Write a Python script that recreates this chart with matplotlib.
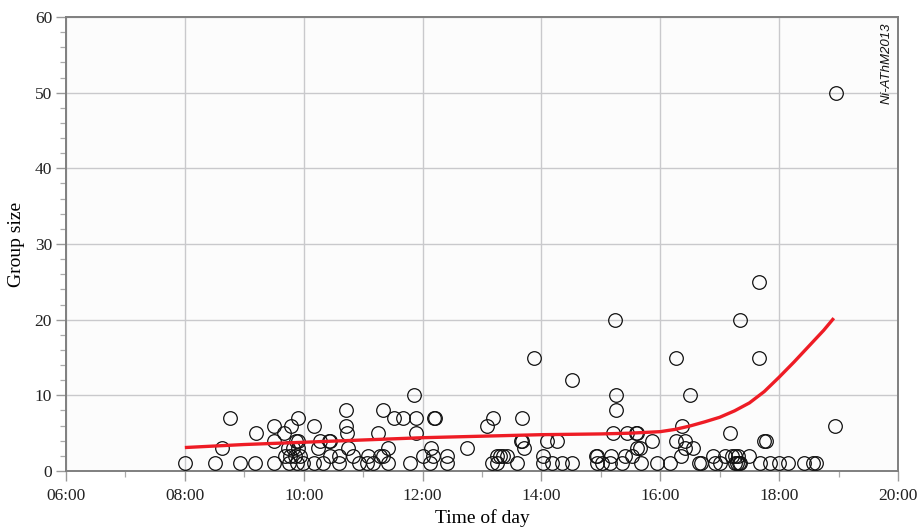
import matplotlib
matplotlib.use("Agg")
import matplotlib.pyplot as plt
from matplotlib.ticker import MultipleLocator, FuncFormatter

# Observations: time of day (decimal hours) and group size
time_h = [
    8.00, 8.51, 8.93, 9.18, 9.50, 9.75, 9.89, 9.99, 10.17,
    9.69, 9.77, 9.85, 9.94,
    8.62, 9.74, 9.82, 9.90, 10.24,
    9.87, 9.90, 9.50,
    9.20, 9.67,
    9.50, 9.79, 10.17,
    8.76, 9.90,
    10.32, 10.59, 10.93, 11.06, 11.17, 11.42, 11.79, 12.12, 12.41,
    10.44, 10.59, 10.83, 11.08, 11.28, 11.33, 12.01, 12.18, 12.41,
    10.75, 11.42, 12.14,
    10.27, 10.43, 10.44,
    10.73, 11.25, 11.89,
    10.71,
    11.52, 11.67, 11.89, 12.19, 12.21,
    10.71, 11.33,
    11.86,
    13.17, 13.25, 13.59, 14.03, 14.18, 14.35, 14.51, 14.94,
    13.25, 13.30, 13.35, 13.42, 14.03, 14.94,
    12.75, 13.71,
    13.66, 13.67, 14.09, 14.26,
    13.08,
    13.19, 13.67,
    14.51, 13.87,
    15.02, 15.15, 15.36, 15.68, 15.94, 16.16, 16.65, 16.68, 16.92, 17.00, 17.26, 17.29,
    14.92, 15.17, 15.41, 15.52, 16.35, 16.89, 17.09, 17.21, 17.31,
    15.61, 15.66, 16.42, 16.55,
    15.86, 16.26, 16.42,
    15.20, 15.44, 15.59, 15.61, 17.17,
    16.37,
    15.25,
    15.25, 16.50,
    15.24, 16.26,
    17.32, 17.34, 17.68, 17.85, 18.00, 18.15, 18.42, 18.57, 18.62,
    17.26, 17.49,
    17.74, 17.78,
    18.94,
    17.34, 17.66, 17.66, 18.96,
]
group_size = [
    1, 1, 1, 1, 1, 1, 1, 1, 1,
    2, 2, 2, 2,
    3, 3, 3, 3, 3,
    4, 4, 4,
    5, 5,
    6, 6, 6,
    7, 7,
    1, 1, 1, 1, 1, 1, 1, 1, 1,
    2, 2, 2, 2, 2, 2, 2, 2, 2,
    3, 3, 3,
    4, 4, 4,
    5, 5, 5,
    6,
    7, 7, 7, 7, 7,
    8, 8,
    10,
    1, 1, 1, 1, 1, 1, 1, 1,
    2, 2, 2, 2, 2, 2,
    3, 3,
    4, 4, 4, 4,
    6,
    7, 7,
    12, 15,
    1, 1, 1, 1, 1, 1, 1, 1, 1, 1, 1, 1,
    2, 2, 2, 2, 2, 2, 2, 2, 2,
    3, 3, 3, 3,
    4, 4, 4,
    5, 5, 5, 5, 5,
    6,
    8,
    10, 10,
    20, 15,
    1, 1, 1, 1, 1, 1, 1, 1, 1,
    2, 2,
    4, 4,
    6,
    20, 25, 15, 50,
]

# Smoothed trend
trend_h = [8.0, 9.0, 10.0, 11.0, 12.0, 13.0, 14.0, 15.0, 15.5, 16.0, 16.25, 16.5,
           16.75, 17.0, 17.25, 17.5, 17.75, 18.0, 18.25, 18.5, 18.75, 18.92]
trend_v = [3.1, 3.5, 3.8, 4.1, 4.4, 4.6, 4.8, 4.9, 5.0, 5.2, 5.5, 5.95,
           6.5, 7.1, 7.95, 9.0, 10.5, 12.4, 14.4, 16.5, 18.6, 20.2]

x_ticks = [6, 8, 10, 12, 14, 16, 18, 20]

plt.rcParams['font.family'] = ['Liberation Serif', 'DejaVu Serif']

fig = plt.figure(figsize=(9.2, 5.3), dpi=100)
ax = fig.add_axes([66/920, 1-471/530, (898-66)/920, (471-17)/530])
ax.set_facecolor('#fcfcfc')

ax.plot(time_h, group_size, linestyle='none', marker='o', markersize=9.8,
        markerfacecolor='none', markeredgecolor='#111111', markeredgewidth=0.9, zorder=3)
ax.plot(trend_h, trend_v, color='#ee1c25', linewidth=2.4, zorder=4,
        solid_capstyle='butt', solid_joinstyle='round')

ax.set_xlim(6, 20)
ax.set_ylim(0, 60)
ax.set_xticks(x_ticks)
ax.xaxis.set_minor_locator(MultipleLocator(1))
ax.yaxis.set_major_locator(MultipleLocator(10))
ax.yaxis.set_minor_locator(MultipleLocator(2))
ax.xaxis.set_major_formatter(FuncFormatter(lambda v, p: f"{int(v):02d}:00"))

ax.grid(True, which='major', color='#c9c9cc', linewidth=1.0, zorder=0)
ax.set_axisbelow(True)

for s in ax.spines.values():
    s.set_color('#7f7f7f')
    s.set_linewidth(1.4)

ax.tick_params(which='major', direction='out', length=7, width=1.0, color='#9a9a9a',
               labelsize=12.5, labelcolor='#222222')
ax.tick_params(axis='x', which='major', pad=5)
ax.tick_params(axis='y', which='major', pad=3)
ax.tick_params(which='minor', direction='out', length=4, width=0.9, color='#aaaaaa')

ax.set_xlabel('Time of day', fontsize=14, labelpad=4)
ax.set_ylabel('Group size', fontsize=14, labelpad=7)

ax.text(19.80, 59.3, 'Ní-AThM2013', rotation=90, ha='center', va='top',
        fontsize=9.5, style='italic', family=['Liberation Sans', 'DejaVu Sans'],
        color='#111111')

fig.savefig('out.png', dpi=100)
